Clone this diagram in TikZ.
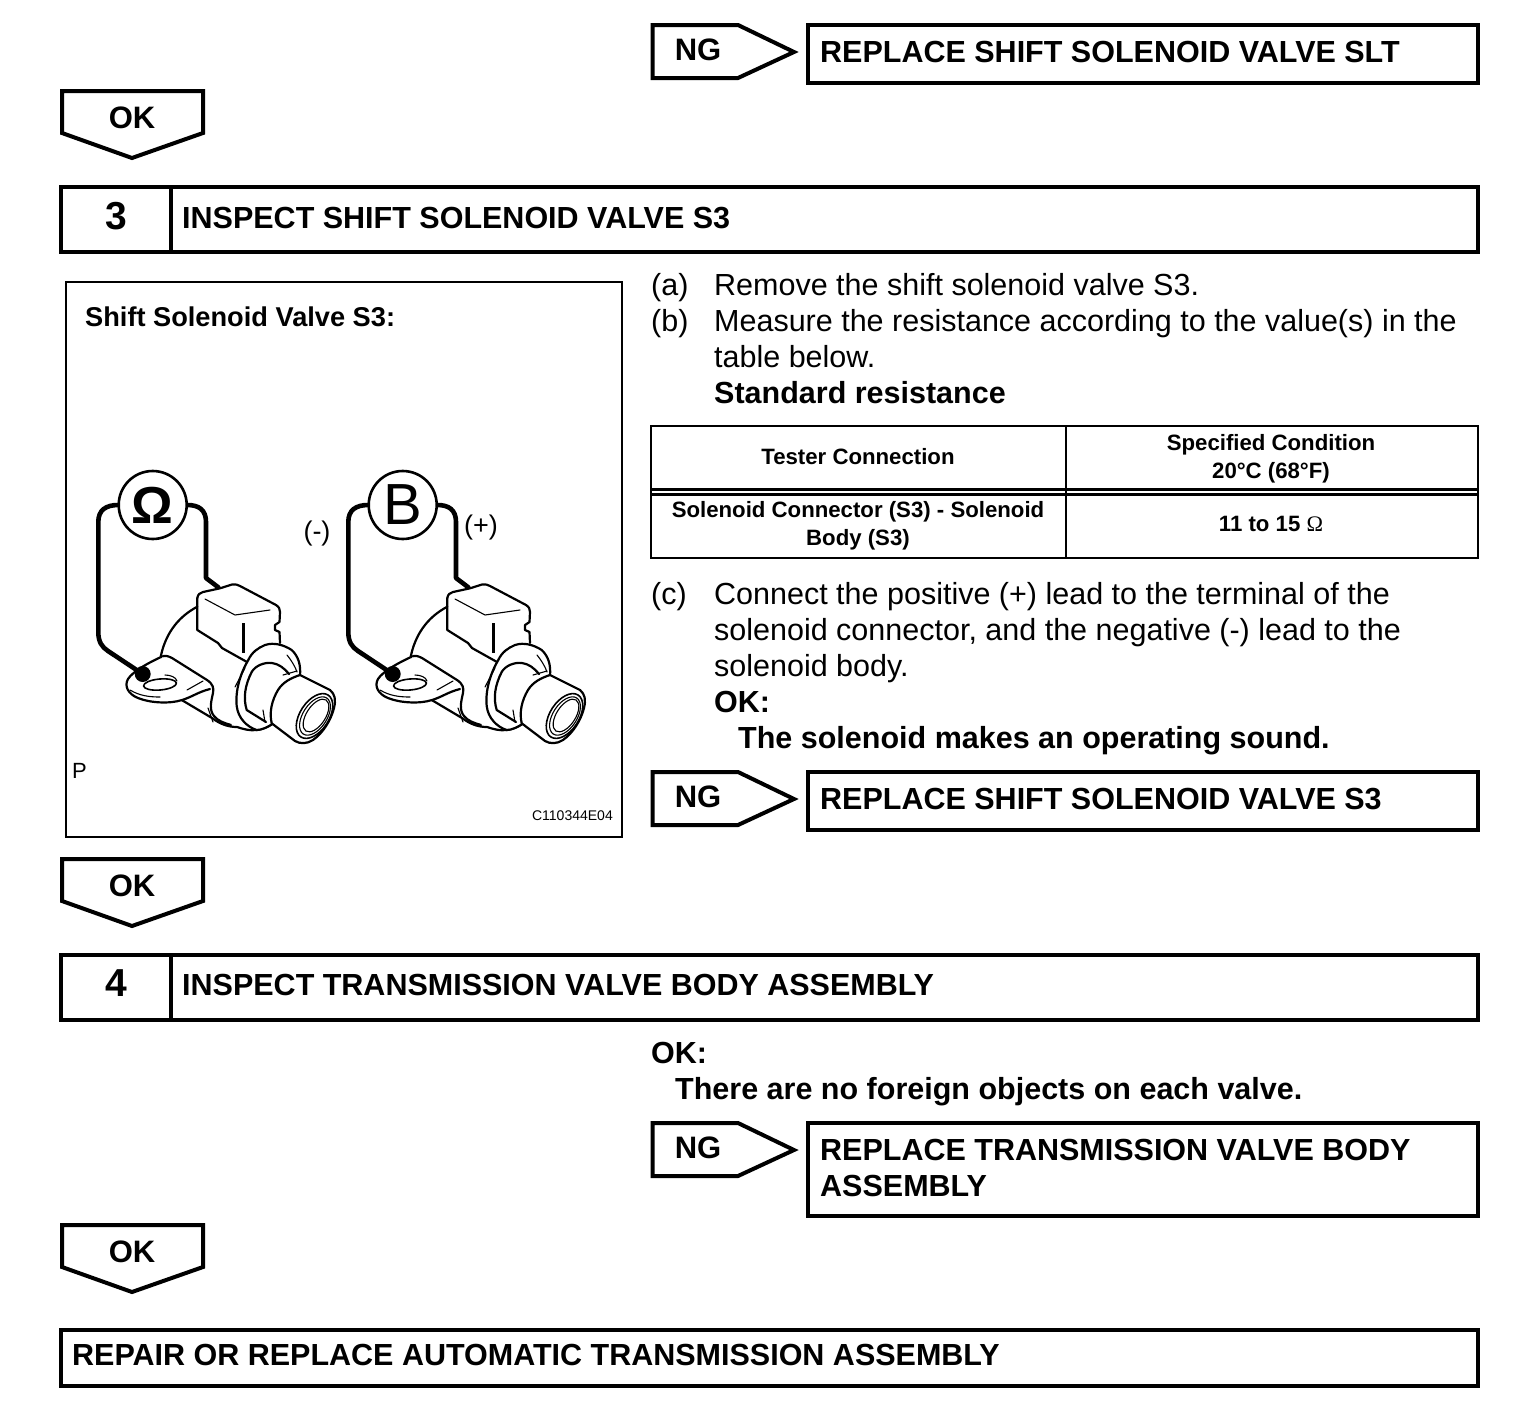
\documentclass[tikz,border=0pt]{standalone}
\usepackage{fontspec}
\setmainfont{Liberation Sans}
\begin{document}
\begin{tikzpicture}[x=1pt,y=-1pt,line join=miter,
  box/.style={draw=black,line width=4pt,fill=white},
  rbox/.style={draw=black,line width=4pt,fill=white,anchor=north west,inner sep=0pt,outer sep=0pt,minimum width=670pt},
  thinbox/.style={draw=black,line width=2pt},
  hb/.style={anchor=base west,inner sep=0pt,font=\fontsize{30.5}{36}\selectfont\bfseries},
  tx/.style={anchor=base west,inner sep=0pt,font=\fontsize{30.5}{36}\selectfont},
  bd/.style={anchor=base west,inner sep=0pt,font=\fontsize{30.5}{36}\selectfont\bfseries},
  tb/.style={anchor=center,inner sep=0pt,align=center,font=\fontsize{22.2}{27.5}\selectfont\bfseries},
  num/.style={anchor=center,inner sep=0pt,font=\fontsize{39}{39}\selectfont\bfseries},
  lab/.style={anchor=center,inner sep=0pt,font=\fontsize{31}{31}\selectfont\bfseries},
  wire/.style={draw=black,line width=4.6pt,line join=round,line cap=round},
  part/.style={draw=black,line width=2.2pt,line join=round,line cap=round},
  partf/.style={part,fill=white},
  fine/.style={draw=black,line width=1.1pt,line cap=round}]
\useasboundingbox (0,0) rectangle (1536,1424);
\fill[white] (0,0) rectangle (1536,1424);
\newcommand{\ngarrow}[2]{\draw[box] (652.5,#1) -- (738,#1) -- (794,#1+27) -- (738,#1+53) -- (652.5,#1+53) -- cycle;
  \node[lab] (#2) at (698,#1+25) {NG};}
\newcommand{\okarrow}[2]{\draw[box] (62,#1) -- (203,#1) -- (203,#1+42) -- (132,#1+67) -- (62,#1+42) -- cycle;
  \node[lab] (#2) at (132,#1+27) {OK};}
\newcommand{\device}[3]{%
\begin{scope}[shift={(#1,0)}]
 % wires
 \draw[wire] (118.3,505) .. controls (106,505) and (98.3,510) .. (98.3,522) -- (98.3,632) .. controls (98.3,642) and (102,647) .. (108,651) -- (142.7,674);
 \draw[wire] (187.3,505) .. controls (199,505) and (206,510) .. (206,522) -- (206,578) -- (218.3,587.3);
 \node[circle,draw=black,line width=2.6pt,minimum size=68pt,inner sep=0pt,fill=white] (#2) at (152.7,505) {#3};
 % body silhouette
 \fill[white] (160.7,656.7) .. controls (165,636) and (176,618) .. (197.3,606.7) -- (197.3,596.7) -- (236.7,584.3) -- (278.3,606.7) -- (280,643) -- (291.7,650) -- (300,675) -- (330,690) -- (335,700) -- (330,722) -- (316.7,738.3) -- (301.7,743.3) -- (271.7,723.3) -- (256.7,730) -- (230,726) -- (181.7,700) -- cycle;
 % housing arc
 \draw[part] (160.7,656.7) .. controls (165,636) and (176,618) .. (197.3,606.7);
 % lower edge
 \draw[part] (181.7,700) -- (212,718) .. controls (220,724) and (228,727) .. (237,727) .. controls (243,729) and (250,731) .. (256.7,730) .. controls (263,729) and (268,727) .. (273.3,723.3);
 % lug
 \draw[partf] (161.7,656.7) .. controls (165,655) and (168,656) .. (172,658) -- (207,680) .. controls (213,684) and (214,688) .. (213,693) .. controls (211,702) and (209,710) .. (214,716) .. controls (218,721) and (224,723) .. (231,725);
 \draw[partf] (210,689) .. controls (198,692) and (192,697) .. (182,700) .. controls (170,704) and (150,703) .. (138,698) .. controls (128,694) and (124,686) .. (128,679) .. controls (133,671) and (150,662) .. (161.7,656.7);
 \draw[fine] (187,690) -- (203,681);
 \draw[fine] (130,690) .. controls (140,696) and (150,697) .. (160,697);
 \draw[fine] (208,708) -- (213,722);
 \draw[part,line width=1.6pt] (160,684.5) ellipse [x radius=16.5,y radius=5.5,rotate=5];
 \draw[fine] (165,675) .. controls (170,675) and (176,677) .. (177,681);
 \fill[black] (142.7,674) circle (8);
 % connector block
 \draw[partf] (197.3,598) .. controls (198,594) and (200,593) .. (203,592) -- (220,588.3) -- (232,584.5) .. controls (236,584) and (238,585) .. (240,586) -- (276,605) .. controls (279,607) and (280,609) .. (280,612) -- (279.5,622) -- (275,625) -- (275,630) -- (279.5,632) -- (280,643);
 \draw[part] (197.3,598) -- (197.3,630) -- (218,643) -- (222,648) -- (247,662);
 \draw[fine] (205,599) -- (235,615) -- (270,610);
 \draw[black,line width=2.4pt] (243.3,623) -- (243.3,653);
 % collar
 \draw[partf] (248.3,660) .. controls (252,652) and (258,648) .. (265,645) .. controls (274,642) and (284,645) .. (291.7,650) .. controls (298,656) and (301,664) .. (300,676) -- (273.3,723.3) .. controls (268,727) and (262,730) .. (256.7,730) .. controls (247,727) and (238,718) .. (236.7,706) .. controls (235,690) and (241,672) .. (248.3,660) -- cycle;
 \draw[part] (251.7,672) .. controls (255,666) and (264,662) .. (272,663) .. controls (279,664) and (284,668) .. (289,674);
 \draw[part] (251.7,672) .. controls (245,685) and (243,698) .. (246.7,710) -- (266,722);
 \draw[fine] (245,668) -- (235,687);
 \draw[fine] (287,655) .. controls (291,660) and (295,666) .. (297,672);
 \draw[fine] (283,675) -- (297,671);
 \draw[fine] (263,710) -- (265,722);
 % barrel
 \draw[partf] (300,675) -- (330,690) .. controls (335,694) and (336,700) .. (334,708) .. controls (331,720) and (323,733) .. (313,740) .. controls (307,744) and (300,744) .. (295,741) -- (271.7,723.3) .. controls (269,712) and (272,700) .. (278,690) .. controls (283,682) and (291,678) .. (300,675) -- cycle;
 \draw[part,line width=1.6pt] (314.5,716) ellipse [x radius=25,y radius=14.5,rotate=57];
 \draw[fine] (315,716) ellipse [x radius=21.5,y radius=12,rotate=57];
 \draw[fine] (316,715.5) ellipse [x radius=18.5,y radius=9.5,rotate=57];
\end{scope}}
% top row
\ngarrow{25}{ng1}
\node[rbox,minimum height=58pt] (r1) at (808,25) {};
\node[hb] (r1t) at (820,62) {REPLACE SHIFT SOLENOID VALVE SLT};
\okarrow{91}{ok1}
% section 3 header
\draw[box] (60.5,186.5) rectangle (1478,251.5);
\draw[black,line width=4pt] (171,186.5) -- (171,251.5);
\node[num] (n3) at (116,216) {3};
\node[hb] (h3) at (182,228) {INSPECT SHIFT SOLENOID VALVE S3};
% illustration
\draw[thinbox] (66,282) rectangle (621.5,836.5);
\node[anchor=base west,inner sep=0pt,font=\fontsize{27.2}{30}\selectfont\bfseries] (ssv) at (85,326) {Shift Solenoid Valve S3:};
\device{0}{om}{\fontsize{52}{52}\selectfont\bfseries Ω}
\device{250}{bb}{\fontsize{58}{58}\selectfont B}
\node[anchor=center,inner sep=0pt,font=\fontsize{27}{27}\selectfont] (minus) at (317,534) {(-)};
\node[anchor=center,inner sep=0pt,font=\fontsize{27}{27}\selectfont] (plus) at (481,528) {(+)};
\node[anchor=base west,inner sep=0pt,font=\fontsize{22}{22}\selectfont] (pp) at (72,778) {P};
\node[anchor=base east,inner sep=0pt,font=\fontsize{14}{14}\selectfont] (code) at (613,820) {C110344E04};
% text (a)(b)
\node[tx] (a) at (651,295) {(a)};
\node[tx] (at) at (714,295) {Remove the shift solenoid valve S3.};
\node[tx] (b) at (651,331) {(b)};
\node[tx] (bt) at (714,331) {Measure the resistance according to the value(s) in the};
\node[tx] (bt2) at (714,367) {table below.};
\node[bd] (sr) at (714,403) {Standard resistance};
% table
\draw[thinbox] (651,425.5) rectangle (1478,557.5);
\draw[thinbox] (1065.5,425.5) -- (1065.5,557.5);
\draw[black,line width=2.5pt] (651,489.5) -- (1478,489.5);
\draw[black,line width=2.5pt] (651,494.5) -- (1478,494.5);
\node[tb] (t1) at (858,457) {Tester Connection};
\node[tb] (t2) at (1271,459) {Specified Condition\\20°C (68°F)};
\node[tb] (t3) at (858,526) {Solenoid Connector (S3) - Solenoid\\Body (S3)};
\node[tb] (t4) at (1271,524) {11 to 15 {\fontspec{Liberation Serif}\mdseries Ω}};
% (c)
\node[tx] (c) at (651,604) {(c)};
\node[tx] (c1) at (714,604) {Connect the positive (+) lead to the terminal of the};
\node[tx] (c2) at (714,640) {solenoid connector, and the negative (-) lead to the};
\node[tx] (c3) at (714,676) {solenoid body.};
\node[bd] (c4) at (714,712) {OK:};
\node[bd] (c5) at (738,748) {The solenoid makes an operating sound.};
\ngarrow{772}{ng2}
\node[rbox,minimum height=58pt] (r2) at (808,772) {};
\node[hb] (r2t) at (820,809) {REPLACE SHIFT SOLENOID VALVE S3};
\okarrow{859}{ok2}
% section 4
\draw[box] (60.5,954.5) rectangle (1478,1019.5);
\draw[black,line width=4pt] (171,954.5) -- (171,1019.5);
\node[num] (n4) at (116,983) {4};
\node[hb] (h4) at (182,995) {INSPECT TRANSMISSION VALVE BODY ASSEMBLY};
\node[bd] (ok4) at (651,1063) {OK:};
\node[bd] (ok4t) at (675,1099) {There are no foreign objects on each valve.};
\ngarrow{1123}{ng3}
\node[rbox,minimum height=93pt] (r3) at (808,1123) {};
\node[hb] (r3a) at (820,1160) {REPLACE TRANSMISSION VALVE BODY};
\node[hb] (r3b) at (820,1196) {ASSEMBLY};
\okarrow{1225}{ok3}
\draw[box] (60.5,1329.5) rectangle (1478,1386);
\node[hb] (fin) at (72,1365) {REPAIR OR REPLACE AUTOMATIC TRANSMISSION ASSEMBLY};
\end{tikzpicture}
\end{document}
